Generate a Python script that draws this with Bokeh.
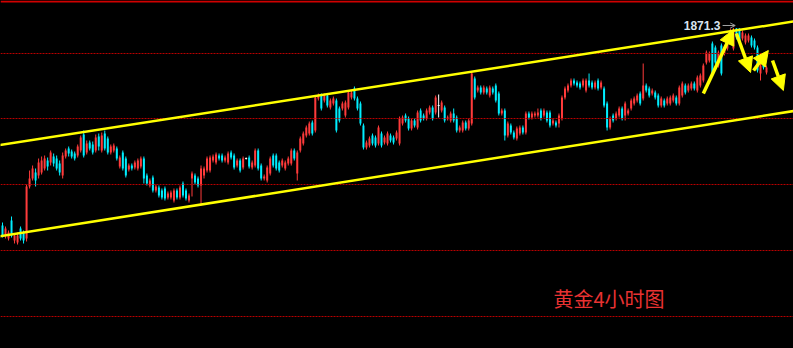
from bokeh.plotting import figure
from bokeh.models import Range1d, Span, Slope, Label, Arrow, NormalHead, OpenHead, ColumnDataSource
from bokeh.embed import file_html
from bokeh.resources import INLINE

# ---- data: 4-hour gold candles ----
opens = [
    1772.5, 1767.5, 1766, 1775, 1765, 1764, 1771, 1769, 1766, 1792,
    1796, 1799, 1797.5, 1799, 1801, 1805, 1804, 1807, 1806, 1803.5,
    1797.5, 1807, 1811, 1809.5, 1808.5, 1807.5, 1810, 1818, 1809, 1814,
    1813, 1810, 1817, 1810, 1818.5, 1816, 1809, 1810, 1811, 1802,
    1809, 1806, 1800.5, 1802.5, 1801.5, 1801, 1802, 1806, 1797.5, 1792.5,
    1796.5, 1790, 1791.5, 1790,
    1791, 1786.5, 1786.5, 1785, 1790, 1786.5, 1793.5,
    1790, 1785, 1796, 1797.5, 1796, 1792.5, 1797.5, 1800, 1800, 1805,
    1804, 1807.5, 1807.5, 1805, 1804, 1809, 1807.5, 1802.5, 1805, 1801.5,
    1806, 1806.5, 1801.5, 1802.5, 1810, 1802.5, 1796, 1795, 1798.5, 1807.5,
    1807.5, 1804, 1802.5, 1801, 1803.5, 1803.5, 1810, 1798.5, 1810, 1813.5,
    1817.5, 1818.5, 1824, 1820, 1836, 1837.5, 1835, 1837.5, 1831.5, 1833.5,
    1835, 1831, 1831, 1827.5, 1831.5, 1836.5, 1841, 1836, 1833.5, 1822.5,
    1811.5, 1812.5, 1817.5, 1816.5, 1813.5, 1818.5, 1814, 1813.5, 1817.5, 1816.5,
    1816, 1813.5, 1823.5, 1827.5, 1826, 1821, 1825, 1821.5, 1830, 1827.5,
    1826, 1829, 1831.5, 1829, 1832.5, 1830, 1831.5, 1826, 1825, 1828.5,
    1826.5, 1820, 1820, 1824, 1821, 1823.5, 1846, 1840, 1841.5, 1839,
    1841, 1837.5, 1841, 1842.5, 1838.5, 1828.5, 1830, 1817.5, 1822.5, 1819,
    1816, 1818.5, 1821.5, 1819, 1828.5, 1826.5, 1827.5, 1827.5, 1830, 1827.5,
    1829, 1829, 1823.5, 1824, 1823.5, 1826, 1836.5, 1840, 1842.5, 1845,
    1844, 1843.5, 1842.5, 1840, 1845, 1844, 1841.5, 1845, 1841.5, 1841,
    1833.5, 1821.5, 1827.5, 1826, 1827.5, 1831, 1827.5, 1828.5, 1831, 1833.5,
    1835, 1838.5, 1836, 1842.5, 1841, 1838.5, 1839, 1837.5, 1832.5, 1835,
    1833.5, 1833.5, 1835, 1836.5, 1833.5, 1837.5, 1842.5, 1840, 1841, 1843.5,
    1840, 1842.5, 1845, 1854, 1855, 1863.5, 1861.5, 1852.5, 1862.5, 1858.5,
    1861, 1865, 1861, 1871, 1871, 1866, 1864, 1865, 1866.5, 1865,
    1861.5, 1848.5, 1856, 1849,
]
highs = [
    1774, 1772, 1770, 1777, 1768.5, 1769, 1772, 1770, 1793, 1800,
    1802.5, 1801, 1806, 1807, 1807.5, 1806.5, 1810, 1808.5, 1807.5, 1805,
    1809, 1811, 1812, 1810.5, 1809.5, 1813, 1817.5, 1820, 1815, 1815,
    1814.5, 1818, 1818.5, 1819, 1820, 1817, 1813, 1813.5, 1812, 1807.5,
    1810, 1807, 1803.5, 1803.5, 1805, 1806, 1807, 1807, 1798.5, 1796,
    1797.5, 1793, 1792.5, 1791,
    1792, 1789.5, 1790, 1791, 1791, 1792.5, 1794.5,
    1791, 1788.5, 1799.5, 1798.5, 1797, 1802.5, 1802, 1807, 1807.5, 1808,
    1809, 1808.5, 1808.5, 1807.5, 1809.5, 1810, 1808.5, 1806, 1806, 1807,
    1806.5, 1807.5, 1805, 1811, 1811, 1803.5, 1798, 1802.5, 1807, 1808.5,
    1808.5, 1805, 1806, 1805, 1807, 1811, 1811, 1810, 1817, 1819.5,
    1822.5, 1824.5, 1825, 1837.5, 1838.5, 1838.5, 1838.5, 1838.5, 1836, 1837,
    1836, 1832, 1834.5, 1835, 1840, 1840, 1842, 1837, 1834.5, 1823.5,
    1815, 1817, 1818.5, 1817.5, 1822.5, 1819.5, 1817.5, 1819.5, 1818.5, 1817.5,
    1820, 1827, 1827.5, 1828.5, 1827, 1826, 1826, 1830, 1831, 1828.5,
    1831, 1832.5, 1832.5, 1837.5, 1838, 1835, 1832.5, 1827.5, 1829.5, 1831,
    1827.5, 1822.5, 1825, 1825, 1826, 1849.5, 1847, 1842.5, 1842.5, 1842.5,
    1842, 1842.5, 1842, 1843.5, 1839.5, 1831, 1831, 1824.5, 1823.5, 1820,
    1822, 1822.5, 1822.5, 1829.5, 1829.5, 1829.5, 1829.5, 1831, 1831, 1831,
    1830, 1830, 1826, 1825, 1828.5, 1837.5, 1842, 1843.5, 1846, 1846,
    1845, 1844.5, 1846, 1846, 1848.5, 1845, 1845, 1846, 1845, 1842,
    1834.5, 1827, 1828.5, 1829.5, 1832, 1832, 1834.5, 1831, 1836, 1837,
    1838.5, 1839.5, 1853.5, 1843.5, 1842, 1841, 1840, 1838.5, 1837, 1836,
    1837, 1837.5, 1838.5, 1837.5, 1842.5, 1844.5, 1843.5, 1843.5, 1844.5, 1844.5,
    1847.5, 1848.5, 1853.5, 1860, 1859.5, 1864.5, 1862.5, 1860, 1863.5, 1862.5,
    1864.5, 1871, 1871.3, 1871.2, 1871.2, 1870, 1868.5, 1868.5, 1867.5, 1866,
    1862.5, 1853.5, 1857, 1852.5,
]
lows = [
    1766.5, 1766, 1765, 1766.5, 1763.5, 1763, 1765, 1763.5, 1764.5, 1791,
    1795, 1792, 1796, 1798, 1800, 1800, 1802.5, 1802, 1800, 1797.5,
    1796, 1806, 1807, 1806, 1805, 1806.5, 1809, 1806.5, 1808, 1810,
    1808, 1809, 1810, 1809, 1810, 1808, 1808, 1809, 1805, 1801,
    1800, 1796.5, 1799.5, 1800, 1800.5, 1800, 1801, 1793.5, 1792.5, 1791.5,
    1789, 1789, 1786.5, 1785.5,
    1785, 1785.5, 1785.5, 1784, 1785.5, 1785.5, 1786.5,
    1785, 1784, 1787, 1793, 1791.5, 1782.5, 1796, 1799, 1799, 1804,
    1803, 1805, 1804, 1804, 1803, 1805.5, 1800.5, 1801.5, 1799, 1800.5,
    1805.5, 1801, 1800.5, 1801.5, 1800, 1795, 1795, 1794, 1797.5, 1801.5,
    1800, 1799, 1801.5, 1800, 1802.5, 1802.5, 1805, 1795, 1809, 1812.5,
    1816.5, 1817.5, 1817.5, 1819, 1835, 1830, 1834, 1831.5, 1830.5, 1832.5,
    1819, 1824, 1830, 1826.5, 1830.5, 1835.5, 1835, 1830, 1822.5, 1810.5,
    1810.5, 1811.5, 1812.5, 1811.5, 1812.5, 1811.5, 1813, 1812.5, 1814, 1813,
    1815, 1812.5, 1822.5, 1824, 1820, 1820, 1821.5, 1820.5, 1824, 1825,
    1825, 1828, 1825, 1828, 1826.5, 1829, 1824, 1825, 1824, 1824,
    1819, 1819, 1819, 1820, 1820, 1822.5, 1835.5, 1839, 1838, 1838,
    1838, 1836.5, 1838, 1834, 1827.5, 1827.5, 1815, 1816.5, 1818, 1815.5,
    1815, 1817.5, 1818, 1818, 1825.5, 1825.5, 1826.5, 1826.5, 1825, 1826.5,
    1824, 1821.5, 1822.5, 1821.5, 1821.5, 1825, 1835.5, 1839, 1841.5, 1842.5,
    1841.5, 1840.5, 1841.5, 1839, 1841.5, 1840.5, 1840.5, 1840, 1840.5, 1831.5,
    1820, 1820.5, 1824, 1825, 1826.5, 1825, 1825, 1827.5, 1830, 1832.5,
    1834, 1832.5, 1835, 1839, 1836.5, 1837.5, 1835.5, 1831.5, 1831.5, 1831.5,
    1832.5, 1832.5, 1834, 1832.5, 1832.5, 1836.5, 1838, 1839, 1840, 1840,
    1839, 1841.5, 1844, 1853, 1854, 1847.5, 1853, 1851.5, 1847.5, 1857.5,
    1860, 1864, 1860, 1865.5, 1864, 1865, 1863, 1864, 1861.5, 1860.5,
    1849, 1845, 1850.5, 1848,
]
closes = [
    1767.5, 1771, 1769, 1767.5, 1767.5, 1767.5, 1766, 1765, 1792, 1796,
    1801, 1795, 1804, 1805, 1806, 1802, 1809, 1803.5, 1801, 1799,
    1807.5, 1810, 1808.5, 1807, 1806, 1812, 1816.5, 1807.5, 1813.5, 1811,
    1809, 1816.5, 1812, 1817.5, 1811, 1809, 1812, 1812.5, 1806, 1806.5,
    1801, 1797.5, 1802.5, 1801, 1804, 1805, 1806, 1796, 1793.5, 1795,
    1790, 1792, 1787.5, 1786.5,
    1786, 1788.5, 1789, 1790, 1786.5, 1791.5, 1787.5,
    1786, 1787.5, 1798.5, 1794, 1792.5, 1801, 1801, 1806, 1806.5, 1807,
    1808, 1806, 1805, 1806.5, 1808.5, 1806.5, 1801.5, 1805, 1800, 1806,
    1806, 1802, 1804, 1810, 1801, 1796, 1797, 1801.5, 1806, 1802.5,
    1801, 1800, 1805, 1804, 1806, 1810, 1806, 1809, 1816, 1818.5,
    1821.5, 1823.5, 1818.5, 1836.5, 1837.5, 1831, 1837.5, 1832.5, 1835, 1836,
    1820, 1825, 1833.5, 1834, 1839, 1839, 1836, 1831, 1823.5, 1811.5,
    1814, 1816, 1813.5, 1812.5, 1821.5, 1812.5, 1816.5, 1818.5, 1815, 1814,
    1819, 1826, 1826.5, 1825, 1821, 1825, 1822.5, 1829, 1825, 1826,
    1830, 1831.5, 1826, 1836.5, 1832.5, 1834, 1825, 1826.5, 1828.5, 1825,
    1820, 1821.5, 1824, 1821, 1825, 1848.5, 1836.5, 1841.5, 1839, 1841.5,
    1839, 1841.5, 1839, 1835, 1828.5, 1830, 1817.5, 1823.5, 1819, 1816.5,
    1821, 1821.5, 1819, 1828.5, 1826.5, 1828.5, 1828.5, 1829, 1826, 1830,
    1825, 1822.5, 1825, 1822.5, 1827.5, 1836.5, 1841, 1842.5, 1845, 1843.5,
    1842.5, 1841.5, 1845, 1845, 1842.5, 1841.5, 1844, 1841, 1844, 1832.5,
    1821.5, 1826, 1825, 1828.5, 1831, 1826, 1833.5, 1830, 1835, 1836,
    1837.5, 1833.5, 1842.5, 1840, 1837.5, 1840, 1836.5, 1832.5, 1836, 1832.5,
    1836, 1836.5, 1837.5, 1833.5, 1841.5, 1843.5, 1839, 1842.5, 1843.5, 1841,
    1846.5, 1847.5, 1852.5, 1859, 1858.5, 1848.5, 1854, 1859, 1848.5, 1861.5,
    1863.5, 1870, 1870, 1866.5, 1865, 1869, 1867.5, 1867.5, 1862.5, 1861.5,
    1850, 1852.5, 1851.5, 1851.5,
]

# channel trend lines: (candle index, price) anchors
upper_channel = [(0, 1812.9), (254, 1872.4)]
lower_channel = [(0, 1767.3), (254, 1827.6)]
# horizontal levels
level_lines = [1858.5, 1826.0, 1793.0, 1760.0, 1727.0]
top_line = 1884.5
# annotations
peak_index = 243
peak_value = 1871.3
peak_text = "1871.3"
title_text = "黄金4小时图"
forecast_arrows = [
    ((233.0, 1838.5), (243.0, 1870.5)),
    ((244.0, 1868.5), (248.7, 1849.0)),
    ((249.7, 1850.0), (254.6, 1860.0)),
    ((256.0, 1855.0), (259.6, 1840.0)),
]

UP = "#FF3B3B"
DOWN = "#00EEFF"
DOJI = "#FFFFFF"

n = min(len(opens), len(highs), len(lows), len(closes))
idx = list(range(n))
colors, tops, bots = [], [], []
for o, c in zip(opens[:n], closes[:n]):
    if c > o:
        colors.append(UP)
    elif c < o:
        colors.append(DOWN)
    else:
        colors.append(DOJI)
    t, b = max(o, c), min(o, c)
    if t - b < 0.5:
        t, b = t + 0.25, b - 0.25
    tops.append(t)
    bots.append(b)

src = ColumnDataSource(dict(x=idx, high=highs[:n], low=lows[:n], top=tops, bottom=bots, color=colors))

p = figure(width=793, height=348, output_backend="svg", toolbar_location=None,
           x_range=Range1d(-0.665, 262.97), y_range=Range1d(1711, 1885),
           x_axis_location=None, y_axis_location=None, min_border=0,
           background_fill_color="black", border_fill_color="black", outline_line_color=None)
p.grid.visible = False

p.add_layout(Span(location=top_line, dimension="width", line_color="#D00000", line_width=2))
for lv in level_lines:
    p.add_layout(Span(location=lv, dimension="width", line_color="#B80000", line_width=1, line_dash="2 1"))

p.segment(x0="x", y0="low", x1="x", y1="high", color="color", line_width=1, source=src)
p.vbar(x="x", width=0.66, top="top", bottom="bottom", fill_color="color", line_color=None, source=src)

for (x0, y0), (x1, y1) in (upper_channel, lower_channel):
    g = (y1 - y0) / (x1 - x0)
    p.add_layout(Slope(gradient=g, y_intercept=y0 - g * x0, line_color="#FFFF00", line_width=2.5))

for (xs, ys), (xe, ye) in forecast_arrows:
    p.add_layout(Arrow(x_start=xs, y_start=ys, x_end=xe, y_end=ye, line_color="#FFFF00", line_width=3.5,
                       end=NormalHead(size=15, fill_color="#FFFF00", line_color="#FFFF00")))

p.add_layout(Label(x=peak_index, y=peak_value + 1.2, x_offset=-13, text=peak_text, text_align="right",
                   text_baseline="middle", text_color="#D8E4F0", text_font_size="12px",
                   text_font_style="bold", text_font="Liberation Sans"))
p.add_layout(Arrow(x_start=peak_index - 3.6, y_start=peak_value + 1.2, x_end=peak_index + 0.6, y_end=peak_value + 1.2,
                   line_color="#A0A0A0", line_width=1, end=OpenHead(size=5, line_color="#A0A0A0", line_width=1)))

p.add_layout(Label(x=553, y=50, x_units="screen", y_units="screen", text=title_text,
                   text_baseline="middle", text_color="#E83232", text_font_size="20px",
                   text_font="Noto Sans CJK SC"))

html = file_html(p, INLINE)
html = html.replace("<head>", "<head><style>html,body{background:#000;margin:0;padding:0;}</style>", 1)
open("out.html", "w").write(html)
